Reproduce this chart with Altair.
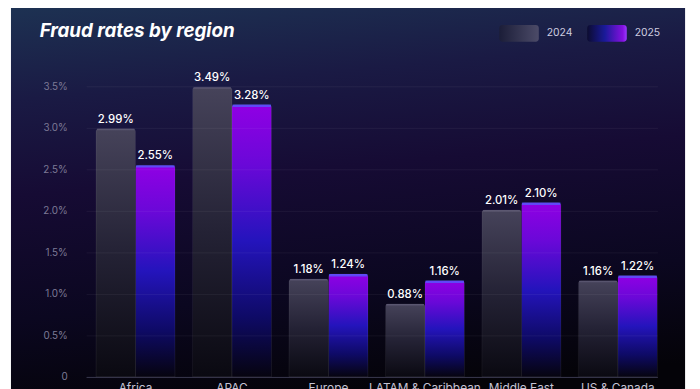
import altair as alt
import pandas as pd

# ---- data ----
regions = ["Africa", "APAC", "Europe", "LATAM & Caribbean", "Middle East", "US & Canada"]
years = ["2024", "2025"]
rate_2024 = [2.99, 3.49, 1.18, 0.88, 2.01, 1.16]
rate_2025 = [2.55, 3.28, 1.24, 1.16, 2.10, 1.22]
y_ticks = [0, 0.5, 1.0, 1.5, 2.0, 2.5, 3.0, 3.5]

rows = []
for r, a, b in zip(regions, rate_2024, rate_2025):
    rows.append({"region": r, "year": "2024", "rate": a, "label": f"{a:.2f}%"})
    rows.append({"region": r, "year": "2025", "rate": b, "label": f"{b:.2f}%"})
df = pd.DataFrame(rows)

FONT = "Inter"
W, H = 578, 294

# ---- background panel ----
bg_grad = alt.Gradient(
    gradient="linear", x1=0.2, y1=0, x2=0.35, y2=1,
    stops=[
        alt.GradientStop(offset=0, color="#1d3152"),
        alt.GradientStop(offset=0.22, color="#1a1a44"),
        alt.GradientStop(offset=0.45, color="#160b34"),
        alt.GradientStop(offset=0.75, color="#0b0720"),
        alt.GradientStop(offset=1, color="#040308"),
    ],
)
background = alt.Chart(alt.Data(values=[{}])).mark_rect(fill=bg_grad).encode(
    x=alt.value(-76), x2=alt.value(606), y=alt.value(-90), y2=alt.value(320)
)

# ---- shared encodings ----
x_enc = alt.X(
    "region:N", sort=regions,
    scale=alt.Scale(paddingInner=0.18, paddingOuter=0.0512, align=1),
    axis=alt.Axis(title=None, labelAngle=0, ticks=False, grid=False, zindex=2,
                  domainColor="#3a384f", labelColor="#c4c2d4", labelFont=FONT,
                  labelFontSize=12, labelPadding=6),
)
xo_enc = alt.XOffset("year:N", scale=alt.Scale(domain=years, paddingInner=0, paddingOuter=0))
y_enc = alt.Y(
    "rate:Q", scale=alt.Scale(domain=[0, 3.5], nice=False),
    axis=alt.Axis(title=None, values=y_ticks, domain=False, ticks=False, zindex=1,
                  gridColor="#ffffff", gridOpacity=0.06, labelColor="#7d7a96",
                  labelFont=FONT, labelFontSize=10, labelPadding=19,
                  labelExpr="datum.value == 0 ? '0' : format(datum.value, '.1f') + '%'"),
)

base = alt.Chart(df).encode(x=x_enc, xOffset=xo_enc, y=y_enc)

g2024 = alt.Gradient(
    gradient="linear", x1=0, y1=0, x2=0, y2=1,
    stops=[
        alt.GradientStop(offset=0, color="#46435a"),
        alt.GradientStop(offset=0.5, color="#242235"),
        alt.GradientStop(offset=1, color="#0a0911"),
    ],
)
g2025 = alt.Gradient(
    gradient="linear", x1=0, y1=0, x2=0, y2=1,
    stops=[
        alt.GradientStop(offset=0, color="#9000e4"),
        alt.GradientStop(offset=0.22, color="#6a08d8"),
        alt.GradientStop(offset=0.5, color="#2414bc"),
        alt.GradientStop(offset=0.78, color="#0e0a66"),
        alt.GradientStop(offset=1, color="#06040f"),
    ],
)

bars24 = base.transform_filter("datum.year == '2024'").mark_bar(
    fill=g2024, stroke="#ffffff", strokeOpacity=0.05, strokeWidth=1,
    cornerRadiusTopLeft=3, cornerRadiusTopRight=3,
)
bars25 = base.transform_filter("datum.year == '2025'").mark_bar(
    fill=g2025, stroke="#ffffff", strokeOpacity=0.05, strokeWidth=1,
    cornerRadiusTopLeft=3, cornerRadiusTopRight=3,
)
cap24 = base.transform_filter("datum.year == '2024'").mark_tick(
    color="#615d78", thickness=1.5, size=38, yOffset=0.8
)
cap25 = base.transform_filter("datum.year == '2025'").mark_tick(
    color="#4b66ff", thickness=2.5, size=39, yOffset=1.2
)
labels = base.mark_text(
    font=FONT, fontSize=11.5, fontWeight=500, color="#ffffff",
    baseline="alphabetic", dy=-6,
).encode(text="label:N")

# ---- title & legend (decoration) ----
title = alt.Chart(alt.Data(values=[{"t": "Fraud rates by region"}])).mark_text(
    font=FONT, fontSize=19, fontWeight="bold", fontStyle="italic", color="#ffffff",
    align="left", baseline="alphabetic",
).encode(text="t:N", x=alt.value(-47), y=alt.value(-50))

leg24_grad = alt.Gradient(
    gradient="linear", x1=0, y1=0, x2=1, y2=0,
    stops=[alt.GradientStop(offset=0, color="#1b1d38"),
           alt.GradientStop(offset=1, color="#4c4b68")],
)
leg25_grad = alt.Gradient(
    gradient="linear", x1=0, y1=0, x2=1, y2=0,
    stops=[alt.GradientStop(offset=0, color="#0c0c30"),
           alt.GradientStop(offset=0.45, color="#1a1a9a"),
           alt.GradientStop(offset=0.9, color="#8410e0"),
           alt.GradientStop(offset=1, color="#9a3cff")],
)
leg_data = alt.Data(values=[{}])
sw24 = alt.Chart(leg_data).mark_rect(fill=leg24_grad, cornerRadius=3).encode(
    x=alt.value(418), x2=alt.value(458), y=alt.value(-62), y2=alt.value(-45))
sw25 = alt.Chart(leg_data).mark_rect(fill=leg25_grad, cornerRadius=3).encode(
    x=alt.value(507), x2=alt.value(547), y=alt.value(-62), y2=alt.value(-45))
legtxt = alt.Chart(alt.Data(values=[{"t": "2024", "px": 466}, {"t": "2025", "px": 555}])).mark_text(
    font=FONT, fontSize=10.5, color="#cfcde0", align="left", baseline="middle",
).encode(text="t:N", x=alt.X("px:Q", scale=None), y=alt.value(-53.5))

chart = alt.layer(
    background, bars24, bars25, cap24, cap25, labels, title, sw24, sw25, legtxt
).properties(
    width=W, height=H,
    autosize=alt.AutoSizeParams(type="none"),
    padding={"left": 79, "top": 77, "right": 35, "bottom": 10},
    background="white",
).configure_view(stroke=None)

chart.save("out.html", embed_options={"renderer": "svg", "actions": False})
